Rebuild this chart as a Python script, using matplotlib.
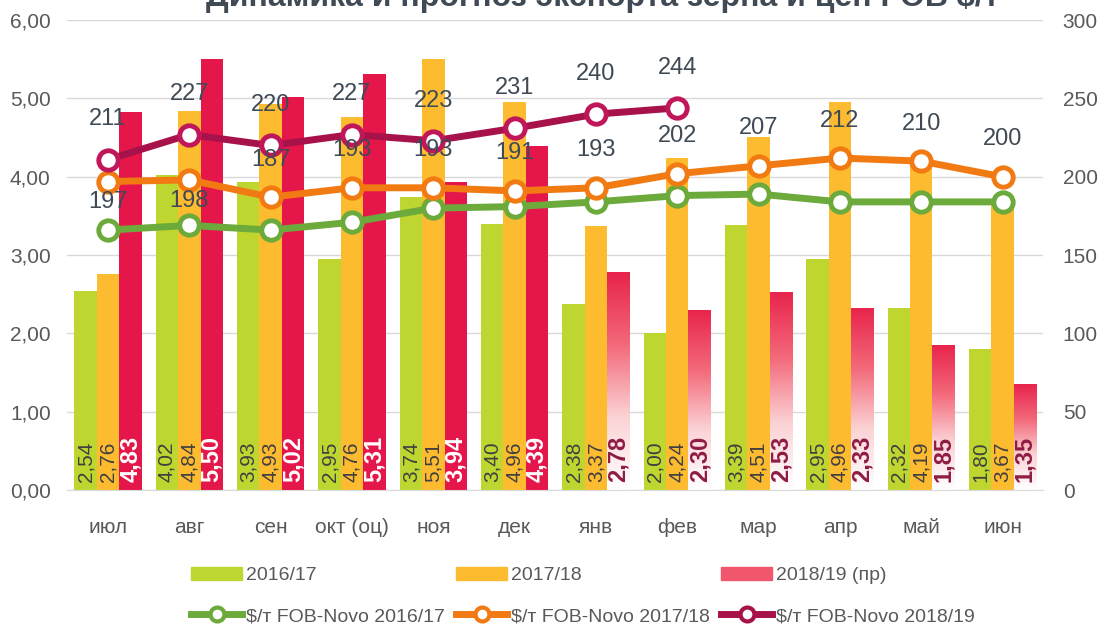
import numpy as np
import matplotlib
matplotlib.use("Agg")
import matplotlib.pyplot as plt
from matplotlib.colors import LinearSegmentedColormap
from matplotlib.lines import Line2D
from matplotlib.patches import Patch

plt.rcParams['font.family'] = ['Liberation Sans', 'DejaVu Sans']

months = ['июл', 'авг', 'сен', 'окт (оц)', 'ноя', 'дек',
          'янв', 'фев', 'мар', 'апр', 'май', 'июн']

exp_1617 = [2.54, 4.02, 3.93, 2.95, 3.74, 3.40, 2.38, 2.00, 3.39, 2.95, 2.32, 1.80]
exp_1718 = [2.76, 4.84, 4.93, 4.76, 5.51, 4.96, 3.37, 4.24, 4.51, 4.96, 4.19, 3.67]
exp_1819 = [4.83, 5.50, 5.02, 5.31, 3.94, 4.39, 2.78, 2.30, 2.53, 2.33, 1.85, 1.35]
n_fact_1819 = 6  # с янв - прогноз

fob_1617 = [166, 169, 166, 171, 180, 181, 184, 188, 189, 184, 184, 184]
fob_1718 = [197, 198, 187, 193, 193, 191, 193, 202, 207, 212, 210, 200]
fob_1819 = [211, 227, 220, 227, 223, 231, 240, 244]

c_green = '#BFD630'
c_orange = '#FDBB30'
c_red = '#E5174A'
c_lgreen = '#6DAA3C'
c_lorange = '#F27A12'
c_lred = '#A8124A'
c_txt = '#404040'

def fmt(v):
    return ('%.2f' % v).replace('.', ',')

fig = plt.figure(figsize=(11.04, 6.3), dpi=100)
ax = fig.add_axes([0.061, 0.222, 0.884, 0.746])
ax2 = ax.twinx()

x = np.arange(len(months))
w = 0.275

ax.bar(x - w, exp_1617, w, color=c_green, zorder=2)
ax.bar(x, exp_1718, w, color=c_orange, zorder=2)
grad = LinearSegmentedColormap.from_list('g', ['#FFFFFF', '#FBD3D5', '#F3697A', '#E8244C'])
for i, v in enumerate(exp_1819):
    if i < n_fact_1819:
        ax.bar(x[i] + w, v, w, color=c_red, zorder=2)
    else:
        r = ax.bar(x[i] + w, v, w, color='none', zorder=2)
        g = np.linspace(0, 1, 256).reshape(-1, 1)
        im = ax.imshow(g, cmap=grad, origin='lower', aspect='auto',
                       extent=[x[i] + w / 2, x[i] + 1.5 * w, 0, v], zorder=2)
        im.set_clip_path(r[0])

for i in range(len(months)):
    ax.text(x[i] - w, 0.1, fmt(exp_1617[i]), rotation=90, ha='center', va='bottom',
            fontsize=15, color=c_txt, zorder=4)
    ax.text(x[i], 0.1, fmt(exp_1718[i]), rotation=90, ha='center', va='bottom',
            fontsize=15, color=c_txt, zorder=4)
    col = 'white' if i < n_fact_1819 else '#8E1B44'
    ax.text(x[i] + w, 0.1, fmt(exp_1819[i]), rotation=90, ha='center', va='bottom',
            fontsize=17, fontweight='bold', color=col, zorder=4)

ax.set_xlim(-0.5, len(months) - 0.5)
ax.set_ylim(0, 6)
ax.set_yticks(np.arange(0, 6.01, 1))
ax.set_yticklabels([fmt(v) for v in np.arange(0, 6.01, 1)])
ax.set_xticks(x)
ax.set_xticklabels(months)
ax.yaxis.grid(True, color='#D9D9D9', lw=1)
ax.set_axisbelow(True)
for s in ['top', 'right', 'left']:
    ax.spines[s].set_visible(False)
ax.spines['bottom'].set_color('#D9D9D9')
ax.tick_params(axis='both', length=0, labelsize=15, colors='#595959')
ax.tick_params(axis='x', pad=20)
ax.tick_params(axis='y', pad=12)

mk = dict(marker='o', markersize=14, markerfacecolor='white', markeredgewidth=3.5)
ax2.plot(x, fob_1617, color=c_lgreen, lw=5, markeredgecolor=c_lgreen, zorder=3, **mk)
ax2.plot(x, fob_1718, color=c_lorange, lw=5, markeredgecolor=c_lorange, zorder=4, **mk)
ax2.plot(x[:len(fob_1819)], fob_1819, color=c_lred, lw=5, markeredgecolor='#C0175A',
         zorder=5, **mk)

for i, v in enumerate(fob_1718):
    dy = -15 if i < 2 else 27
    ax2.annotate(str(v), (x[i], v), xytext=(0, dy), textcoords='offset points',
                 ha='center', va='center', fontsize=17, color='#3F4A55', zorder=6)
for i, v in enumerate(fob_1819):
    ax2.annotate(str(v), (x[i], v), xytext=(0, 29), textcoords='offset points',
                 ha='center', va='center', fontsize=17, color='#3F4A55', zorder=6)

ax2.set_ylim(0, 300)
ax2.set_yticks(np.arange(0, 301, 50))
for s in ['top', 'right', 'left', 'bottom']:
    ax2.spines[s].set_visible(False)
ax2.tick_params(axis='y', length=0, labelsize=15, colors='#595959', pad=14)

fig.text(0.546, 1 - 6 / 630, 'Динамика и прогноз экспорта зерна и цен FOB $/т',
         ha='center', va='baseline', fontsize=23, fontweight='bold', color='#3F4A55')

lmk = {**mk, 'markersize': 10, 'markeredgewidth': 3}
handles = [
    Patch(color=c_green, label='2016/17'),
    Line2D([], [], color=c_lgreen, lw=5, markeredgecolor=c_lgreen, label='$/т FOB-Novo 2016/17', **lmk),
    Patch(color=c_orange, label='2017/18'),
    Line2D([], [], color=c_lorange, lw=5, markeredgecolor=c_lorange, label='$/т FOB-Novo 2017/18', **lmk),
    Patch(color='#F0566C', label='2018/19 (пр)'),
    Line2D([], [], color=c_lred, lw=5, markeredgecolor=c_lred, label='$/т FOB-Novo 2018/19', **lmk),
]
leg = fig.legend(handles=handles, ncol=3, loc='lower center', bbox_to_anchor=(0.528, -0.02),
                 frameon=False, fontsize=14, handlelength=2.6, handletextpad=0.2,
                 columnspacing=0.6, labelspacing=1.2)
for t in leg.get_texts():
    t.set_color('#595959')

fig.savefig('out.png', dpi=100)
